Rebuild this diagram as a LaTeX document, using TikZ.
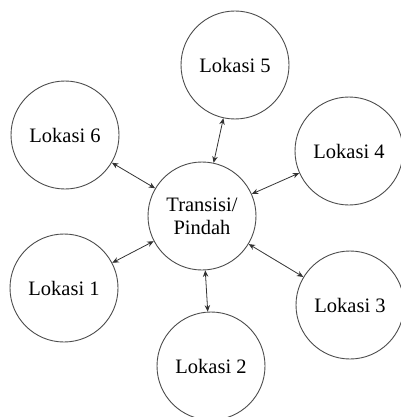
\documentclass[tikz,border=0pt]{standalone}
\usepackage{fontspec}
\setmainfont{Liberation Serif}
\usetikzlibrary{arrows.meta}
\begin{document}
\begin{tikzpicture}[x=1pt,y=-1pt,
  loc/.style={circle,draw=black!70,line width=0.9pt,minimum size=108pt,inner sep=0pt,
    font=\fontsize{20.5}{23}\selectfont,align=center},
  link/.style={black!80,line width=0.8pt,{Stealth[length=6.5pt,width=5.5pt]}-{Stealth[length=6.5pt,width=5.5pt]}}]
  \useasboundingbox (0,0) rectangle (400,417);
  \node[loc] (c) at (202,216) {Transisi/\\Pindah};
  \node[loc] (l5) at (235,65) {Lokasi 5};
  \node[loc] (l6) at (65,135) {Lokasi 6};
  \node[loc] (l4) at (349,151) {Lokasi 4};
  \node[loc] (l1) at (64,288) {Lokasi 1};
  \node[loc] (l3) at (350,305) {Lokasi 3};
  \node[loc] (l2) at (211,366) {Lokasi 2};
  \draw[link] (c) -- (l5);
  \draw[link] (c) -- (l6);
  \draw[link] (c) -- (l4);
  \draw[link] (c) -- (l1);
  \draw[link] (c) -- (l3);
  \draw[link] (c) -- (l2);
\end{tikzpicture}
\end{document}
